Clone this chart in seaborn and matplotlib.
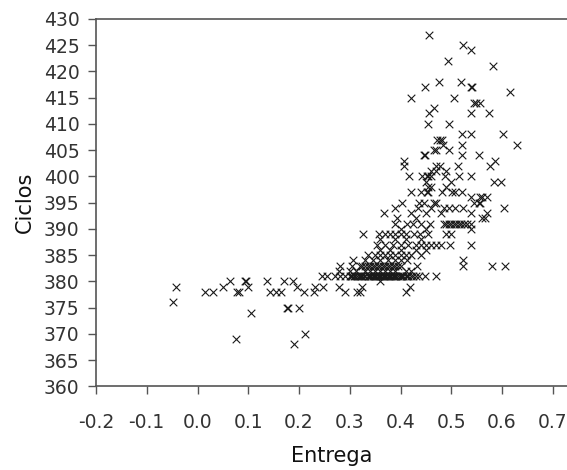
import numpy as np
import pandas as pd
import matplotlib
matplotlib.use("Agg")
import matplotlib.pyplot as plt
from matplotlib.ticker import FormatStrFormatter
import seaborn as sns

# Values, one line per Ciclos level
entrega = [
    0.190,                                                    # 368
    0.076,                                                    # 369
    0.212,                                                    # 370
    0.105,                                                    # 374
    0.176, 0.178, 0.199,                                      # 375
    -0.049,                                                   # 376
    0.015, 0.031, 0.078, 0.081, 0.143, 0.155, 0.165, 0.210,
    0.229, 0.291, 0.314, 0.321, 0.410,                        # 378
    -0.042, 0.051, 0.100, 0.197, 0.232, 0.248, 0.278, 0.324,
    0.419,                                                    # 379
    0.064, 0.093, 0.095, 0.137, 0.171, 0.188, 0.360,          # 380
    0.245, 0.255, 0.270, 0.280, 0.290, 0.300, 0.305, 0.310,
    0.315, 0.320, 0.325, 0.330, 0.335, 0.340, 0.345, 0.350,
    0.355, 0.360, 0.365, 0.370, 0.375, 0.380, 0.385, 0.390,
    0.395, 0.400, 0.405, 0.410, 0.415, 0.420, 0.430, 0.449,
    0.469, 0.302, 0.308, 0.318, 0.322, 0.328, 0.338, 0.342,
    0.348, 0.352, 0.358, 0.362, 0.368, 0.372, 0.378, 0.382,
    0.388, 0.392, 0.398, 0.402, 0.412, 0.425, 0.436,          # 381
    0.278, 0.300, 0.312, 0.330, 0.350, 0.370, 0.390, 0.410,
    0.420, 0.340, 0.360, 0.380,                               # 382
    0.281, 0.304, 0.320, 0.330, 0.340, 0.350, 0.360, 0.370,
    0.380, 0.390, 0.400, 0.433, 0.523, 0.580, 0.605, 0.325,
    0.335, 0.345, 0.355, 0.365, 0.375, 0.385, 0.395,          # 383
    0.307, 0.330, 0.345, 0.360, 0.375, 0.390, 0.400, 0.413,
    0.524,                                                    # 384
    0.335, 0.350, 0.360, 0.370, 0.380, 0.390, 0.400, 0.410,
    0.420, 0.440,                                             # 385
    0.360, 0.380, 0.400, 0.430, 0.450,                        # 386
    0.354, 0.370, 0.385, 0.400, 0.415, 0.430, 0.440, 0.450,
    0.460, 0.470, 0.480, 0.498, 0.538,                        # 387
    0.360, 0.390, 0.410, 0.440,                               # 388
    0.327, 0.357, 0.370, 0.380, 0.390, 0.400, 0.410, 0.426,
    0.439, 0.455, 0.490, 0.500,                               # 389
    0.400, 0.450, 0.538,                                      # 390
    0.390, 0.413, 0.425, 0.440, 0.459, 0.485, 0.490, 0.495,
    0.500, 0.505, 0.510, 0.515, 0.520, 0.525, 0.530, 0.538,   # 391
    0.393, 0.430, 0.561, 0.567,                               # 392
    0.367, 0.420, 0.450, 0.480, 0.538, 0.571,                 # 393
    0.390, 0.435, 0.460, 0.485, 0.495, 0.508, 0.524, 0.603,   # 394
    0.403, 0.436, 0.446, 0.465, 0.470, 0.544, 0.554, 0.557,   # 395
    0.538, 0.557, 0.561, 0.571,                               # 396
    0.420, 0.440, 0.453, 0.455, 0.482, 0.502, 0.508, 0.521,   # 397
    0.455, 0.460, 0.490,                                      # 398
    0.450, 0.500, 0.584, 0.597,                               # 399
    0.416, 0.442, 0.452, 0.455, 0.460, 0.488, 0.515, 0.538,   # 400
    0.460, 0.470, 0.490,                                      # 401
    0.406, 0.469, 0.478, 0.513, 0.577,                        # 402
    0.406, 0.587,                                             # 403
    0.446, 0.449, 0.521, 0.554,                               # 404
    0.465, 0.469, 0.495,                                      # 405
    0.484, 0.521, 0.630,                                      # 406
    0.472, 0.478, 0.482,                                      # 407
    0.521, 0.538, 0.602,                                      # 408
    0.455, 0.495,                                             # 410
    0.457, 0.538, 0.574,                                      # 412
    0.465,                                                    # 413
    0.544, 0.548, 0.556,                                      # 414
    0.421, 0.505,                                             # 415
    0.615,                                                    # 416
    0.449, 0.539, 0.541,                                      # 417
    0.475, 0.519,                                             # 418
    0.582,                                                    # 421
    0.493,                                                    # 422
    0.539,                                                    # 424
    0.524,                                                    # 425
    0.457,                                                    # 427
]

ciclos = [
    368,
    369,
    370,
    374,
    375, 375, 375,
    376,
    378, 378, 378, 378, 378, 378, 378, 378,
    378, 378, 378, 378, 378,
    379, 379, 379, 379, 379, 379, 379, 379,
    379,
    380, 380, 380, 380, 380, 380, 380,
    381, 381, 381, 381, 381, 381, 381, 381,
    381, 381, 381, 381, 381, 381, 381, 381,
    381, 381, 381, 381, 381, 381, 381, 381,
    381, 381, 381, 381, 381, 381, 381, 381,
    381, 381, 381, 381, 381, 381, 381, 381,
    381, 381, 381, 381, 381, 381, 381, 381,
    381, 381, 381, 381, 381, 381, 381,
    382, 382, 382, 382, 382, 382, 382, 382,
    382, 382, 382, 382,
    383, 383, 383, 383, 383, 383, 383, 383,
    383, 383, 383, 383, 383, 383, 383, 383,
    383, 383, 383, 383, 383, 383, 383,
    384, 384, 384, 384, 384, 384, 384, 384,
    384,
    385, 385, 385, 385, 385, 385, 385, 385,
    385, 385,
    386, 386, 386, 386, 386,
    387, 387, 387, 387, 387, 387, 387, 387,
    387, 387, 387, 387, 387,
    388, 388, 388, 388,
    389, 389, 389, 389, 389, 389, 389, 389,
    389, 389, 389, 389,
    390, 390, 390,
    391, 391, 391, 391, 391, 391, 391, 391,
    391, 391, 391, 391, 391, 391, 391, 391,
    392, 392, 392, 392,
    393, 393, 393, 393, 393, 393,
    394, 394, 394, 394, 394, 394, 394, 394,
    395, 395, 395, 395, 395, 395, 395, 395,
    396, 396, 396, 396,
    397, 397, 397, 397, 397, 397, 397, 397,
    398, 398, 398,
    399, 399, 399, 399,
    400, 400, 400, 400, 400, 400, 400, 400,
    401, 401, 401,
    402, 402, 402, 402, 402,
    403, 403,
    404, 404, 404, 404,
    405, 405, 405,
    406, 406, 406,
    407, 407, 407,
    408, 408, 408,
    410, 410,
    412, 412, 412,
    413,
    414, 414, 414,
    415, 415,
    416,
    417, 417, 417,
    418, 418,
    421,
    422,
    424,
    425,
    427,
]

x_ticks = [-0.2, -0.1, 0.0, 0.1, 0.2, 0.3, 0.4, 0.5, 0.6, 0.7]
y_ticks = list(range(360, 431, 5))

df = pd.DataFrame({"Entrega": entrega, "Ciclos": ciclos})

sns.set_style("ticks")
plt.rcParams["font.family"] = ["DejaVu Sans"]
plt.rcParams["axes.unicode_minus"] = False

fig = plt.figure(figsize=(5.67, 4.70), dpi=100)
ax = fig.add_axes([0.1693, 0.1777, 0.8307, 0.7819])

sns.scatterplot(data=df, x="Entrega", y="Ciclos", marker="x", color="#1a1a1a",
                s=30, linewidth=0.8, ax=ax, legend=False)

ax.set_xlim(-0.2, 0.728)
ax.set_ylim(360, 430)
ax.set_xticks(x_ticks)
ax.set_yticks(y_ticks)
ax.xaxis.set_major_formatter(FormatStrFormatter("%.1f"))

for side in ["left", "bottom", "top"]:
    ax.spines[side].set_color("#555555")
    ax.spines[side].set_linewidth(1.2)
ax.spines["right"].set_visible(False)

ax.tick_params(axis="both", colors="#555555", length=6, width=1.0,
               labelsize=13.5, labelcolor="#333333")
ax.tick_params(axis="x", pad=13)
ax.tick_params(axis="y", pad=6)

ax.set_xlabel("Entrega", fontsize=15, color="#111111", labelpad=10)
ax.set_ylabel("Ciclos", fontsize=15, color="#111111", labelpad=6)

fig.savefig("out.png", dpi=100)
